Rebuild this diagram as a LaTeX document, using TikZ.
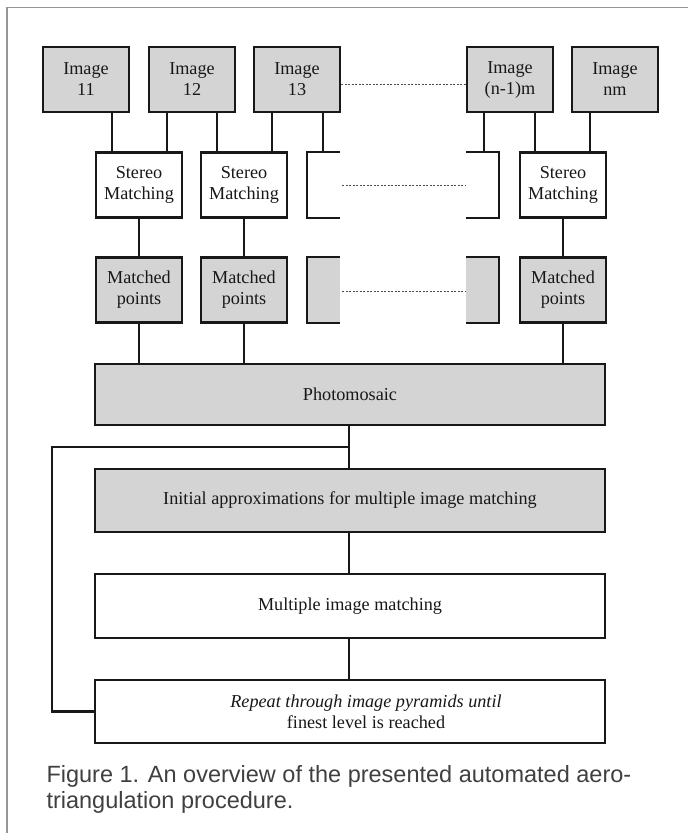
\documentclass[tikz,border=0pt]{standalone}
\usepackage{fontspec}
\setmainfont{Liberation Serif}
\newfontfamily\capfont{Liberation Sans}
\usetikzlibrary{calc}
\definecolor{boxgray}{RGB}{212,212,212}
\definecolor{framegray}{RGB}{150,150,150}
\definecolor{ink}{RGB}{24,24,24}
\begin{document}
\begin{tikzpicture}[x=1pt,y=-1pt,
  box/.style={draw=ink, line width=2.2pt, inner sep=0pt, align=center,
    font=\fontsize{18.2}{21}\selectfont, text=ink},
  gbox/.style={box, fill=boxgray},
  smallbox/.style={minimum width=86pt, minimum height=65pt},
  widebox/.style={minimum width=510pt, minimum height=63pt},
  partbox/.style={inner sep=0pt, minimum width=33pt, minimum height=65pt},
  conn/.style={draw=ink, line width=2.1pt},
  bracket/.style={draw=ink, line width=2.2pt},
  dots/.style={line width=0.9pt, dash pattern=on 2pt off 1.5pt, black!70},
  captext/.style={anchor=base west, font=\capfont\fontsize{23.5}{26}\selectfont, text=black!75}]
\useasboundingbox (0,0) rectangle (688,833);
\fill[white] (0,0) rectangle (688,833);
% frame
\draw[framegray, line width=1.2pt] (7,833) -- (7,7.5) -- (688,7.5);

% image row
\node[gbox, smallbox] (img11) at (86,79.5) {Image\\11};
\node[gbox, smallbox] (img12) at (192,79.5) {Image\\12};
\node[gbox, smallbox] (img13) at (297,79.5) {Image\\13};
\node[gbox, smallbox] (imgn1) at (510,79.5) {Image\\(n-1)m};
\node[gbox, smallbox] (imgnm) at (615,79.5) {Image\\nm};

% stereo row
\node[box, smallbox] (st1) at (139,185) {Stereo\\Matching};
\node[box, smallbox] (st2) at (244,185) {Stereo\\Matching};
\node[partbox] (stL) at (323.5,185) {};
\node[partbox] (stR) at (482.5,185) {};
\node[box, smallbox] (stn) at (563,185) {Stereo\\Matching};
\draw[bracket] (stL.north east) -- (stL.north west) -- (stL.south west) -- (stL.south east);
\draw[bracket] (stR.north west) -- (stR.north east) -- (stR.south east) -- (stR.south west);

% matched row
\node[gbox, smallbox] (mp1) at (139,290) {Matched\\points};
\node[gbox, smallbox] (mp2) at (244,290) {Matched\\points};
\node[partbox] (mpL) at (323.5,290) {};
\node[partbox] (mpR) at (482.5,290) {};
\node[gbox, smallbox] (mpn) at (563,290) {Matched\\points};
\fill[boxgray] (mpL.north west) rectangle (mpL.south east);
\fill[boxgray] (mpR.north west) rectangle (mpR.south east);
\draw[bracket] (mpL.north east) -- (mpL.north west) -- (mpL.south west) -- (mpL.south east);
\draw[bracket] (mpR.north west) -- (mpR.north east) -- (mpR.south east) -- (mpR.south west);

% wide boxes
\node[gbox, widebox, minimum height=61pt] (photo) at (350,394.5) {Photomosaic};
\node[gbox, widebox] (init) at (350,500.5) {Initial approximations for multiple image matching};
\node[box, widebox, minimum height=64pt] (multi) at (350,606) {Multiple image matching};
\node[box, widebox] (rep) at (350,711.5) {};
\node[inner sep=0pt, align=center, font=\fontsize{18.2}{21}\selectfont, text=ink] (reptxt) at (366,711.5)
  {\textit{Repeat through image pyramids until}\\finest level is reached};

% dotted continuation lines
\draw[dots] ([yshift=-5pt]img13.east) -- ([yshift=-5pt]imgn1.west);
\draw[dots] ([xshift=2pt]stL.east) -- ([xshift=-1pt]stR.west);
\draw[dots] ([xshift=2pt,yshift=-1pt]mpL.east) -- ([xshift=-1pt,yshift=-1pt]mpR.west);

% image -> stereo
\draw[conn] ([xshift=26pt]img11.south) -- ([xshift=26pt]img11.south |- st1.north);
\draw[conn] ([xshift=-25pt]img12.south) -- ([xshift=-25pt]img12.south |- st1.north);
\draw[conn] ([xshift=25pt]img12.south) -- ([xshift=25pt]img12.south |- st2.north);
\draw[conn] ([xshift=-25pt]img13.south) -- ([xshift=-25pt]img13.south |- st2.north);
\draw[conn] ([xshift=26pt]img13.south) -- ([xshift=26pt]img13.south |- stL.north);
\draw[conn] ([xshift=-26pt]imgn1.south) -- ([xshift=-26pt]imgn1.south |- stR.north);
\draw[conn] ([xshift=25pt]imgn1.south) -- ([xshift=25pt]imgn1.south |- stn.north);
\draw[conn] ([xshift=-25pt]imgnm.south) -- ([xshift=-25pt]imgnm.south |- stn.north);

% stereo -> matched
\draw[conn] (st1.south) -- (mp1.north);
\draw[conn] (st2.south) -- (mp2.north);
\draw[conn] (stn.south) -- (mpn.north);

% matched -> photomosaic
\draw[conn] (mp1.south) -- (mp1.south |- photo.north);
\draw[conn] (mp2.south) -- (mp2.south |- photo.north);
\draw[conn] (mpn.south) -- (mpn.south |- photo.north);

% vertical chain
\draw[conn] ([xshift=-1pt]photo.south) -- ([xshift=-1pt]init.north);
\draw[conn] ([xshift=-1pt]init.south) -- ([xshift=-1pt]multi.north);
\draw[conn] ([xshift=-1pt]multi.south) -- ([xshift=-1pt]rep.north);

% loop back
\coordinate (lp) at (52,447);
\draw[conn] ([xshift=-1pt]photo.south |- lp) -- (lp) |- (rep.west);

% caption
\node[captext] (cap1) at (43,782) {Figure 1. An overview of the presented automated aero-};
\node[captext] (cap2) at (43,808) {triangulation procedure.};
\end{tikzpicture}
\end{document}
